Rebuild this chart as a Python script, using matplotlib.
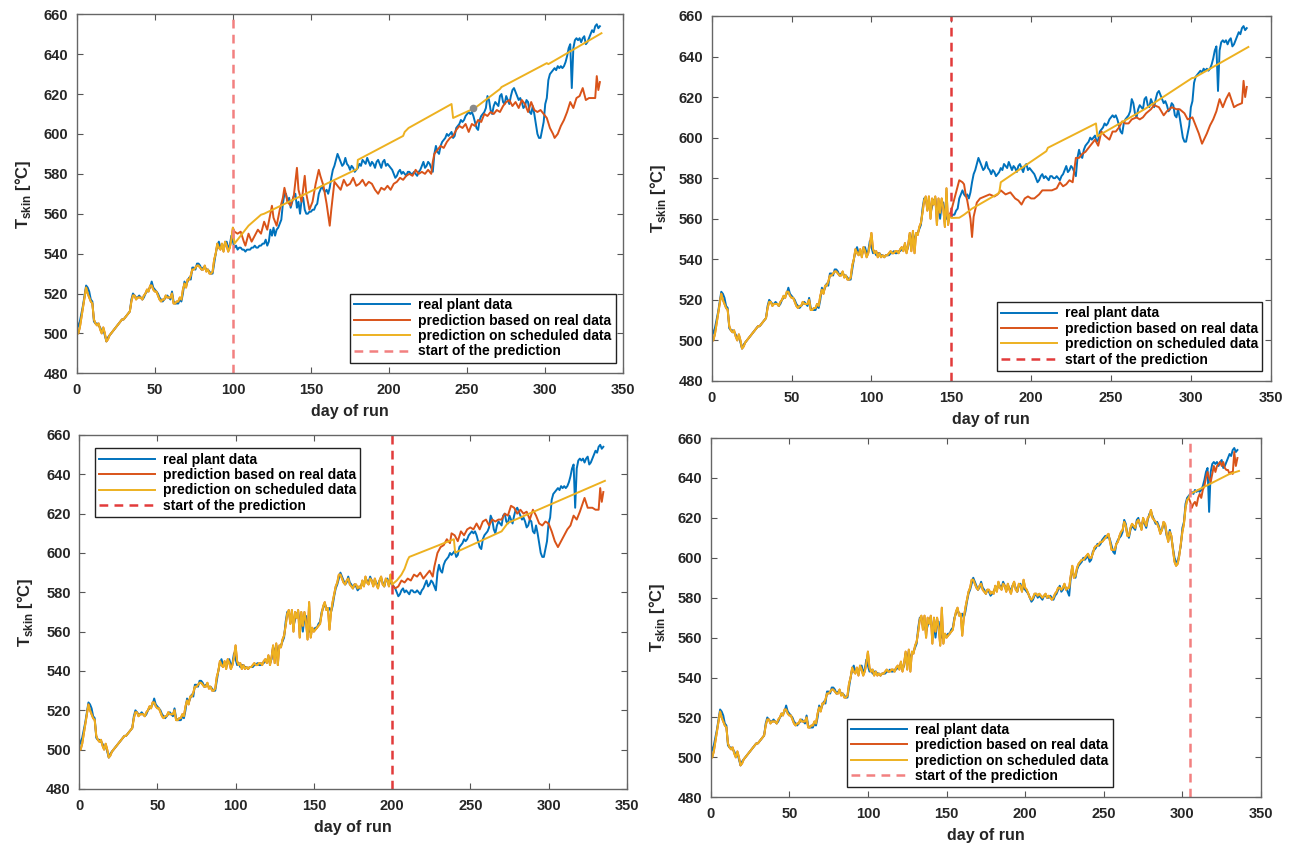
import numpy as np
import matplotlib
matplotlib.use('Agg')
import matplotlib.pyplot as plt

plt.rcParams['font.family'] = ['Liberation Sans', 'DejaVu Sans']
plt.rcParams['mathtext.fontset'] = 'custom'
plt.rcParams['mathtext.bf'] = 'Liberation Sans:bold'
plt.rcParams['mathtext.rm'] = 'Liberation Sans:bold'

# ---------------- data ----------------
# real plant data, one value per day (day 0 .. 335)
real_vals = [
    502, 504, 506, 510, 514, 519, 524, 523, 521, 517,
    516, 506, 505, 505, 504, 503, 501, 502, 499, 496,
    498, 499, 500, 501, 502, 503, 504, 505, 506, 507,
    507, 508, 509, 510, 511, 517, 520, 519, 518, 518,
    519, 518, 517, 518, 520, 521, 522, 523, 526, 523,
    522, 521, 520, 518, 517, 516, 517, 518, 519, 518,
    517, 521, 516, 515, 515, 515, 517, 516, 520, 526,
    524, 526, 528, 527, 533, 533, 532, 535, 535, 534,
    532, 533, 533, 532, 532, 531, 530, 530, 535, 540,
    544, 546, 543, 544, 542, 545, 546, 543, 544, 549,
    546, 543, 544, 542, 543, 543, 542, 542, 541, 542,
    542, 542, 543, 543, 544, 543, 543, 544, 544, 545,
    545, 547, 544, 546, 552, 549, 553, 549, 552, 553,
    555, 557, 565, 570, 570, 566, 568, 563, 566, 569,
    570, 563, 566, 560, 567, 568, 562, 560, 560, 561,
    561, 562, 562, 564, 565, 570, 572, 574, 572, 571,
    572, 570, 573, 578, 582, 584, 587, 590, 588, 586,
    584, 585, 588, 585, 584, 582, 584, 583, 581, 582,
    583, 585, 584, 587, 586, 585, 588, 586, 584, 586,
    585, 583, 586, 587, 585, 583, 586, 587, 584, 585,
    584, 583, 582, 580, 578, 579, 581, 582, 580, 581,
    580, 579, 581, 581, 580, 580, 581, 580, 579, 581,
    582, 584, 586, 583, 584, 586, 585, 583, 581, 590,
    594, 591, 590, 594, 596, 597, 598, 600, 599, 600,
    601, 598, 599, 603, 604, 605, 607, 606, 607, 609,
    610, 611, 610, 611, 609, 606, 603, 602, 607, 609,
    610, 611, 613, 619, 617, 612, 610, 614, 616, 615,
    614, 619, 620, 616, 615, 619, 617, 615, 619, 622,
    623, 621, 619, 617, 618, 616, 613, 614, 617, 616,
    611, 610, 614, 610, 605, 600, 598, 598, 602, 606,
    615, 618, 627, 630, 631, 632, 633, 632, 634, 633,
    634, 633, 634, 636, 639, 643, 645, 623, 643, 647,
    648, 647, 648, 646, 648, 649, 645, 646, 648, 650,
    652, 651, 654, 655, 653, 654,
]
real_days = list(range(len(real_vals)))

# model output on the historical period (day 0 .. 305)
fit_vals = [
    500, 500, 503, 508, 513, 518, 523, 520, 518, 516,
    515, 507, 505, 504, 505, 502, 500, 503, 500, 496,
    497, 499, 500, 501, 502, 503, 504, 505, 506, 507,
    507, 508, 509, 510, 511, 516, 519, 519, 517, 518,
    518, 518, 517, 519, 520, 522, 521, 524, 524, 522,
    521, 521, 519, 517, 516, 517, 517, 519, 518, 518,
    518, 520, 515, 515, 516, 516, 518, 517, 522, 525,
    523, 527, 527, 529, 532, 532, 533, 534, 534, 533,
    532, 532, 534, 531, 532, 530, 530, 531, 537, 540,
    545, 543, 542, 545, 541, 546, 544, 541, 543, 547,
    553, 545, 543, 544, 541, 543, 541, 542, 541, 542,
    542, 543, 544, 543, 543, 544, 544, 543, 545, 546,
    544, 548, 543, 547, 553, 544, 554, 543, 553, 552,
    556, 558, 563, 569, 571, 564, 571, 560, 570, 567,
    571, 557, 570, 563, 570, 565, 556, 575, 557, 562,
    560, 561, 562, 563, 564, 569, 573, 575, 571, 572,
    561, 570, 575, 579, 583, 585, 589, 589, 587, 585,
    584, 586, 587, 584, 583, 582, 584, 584, 582, 583,
    582, 586, 583, 588, 585, 584, 587, 586, 583, 587,
    584, 582, 586, 588, 584, 583, 587, 586, 583, 589,
    585, 584, 582, 580, 579, 580, 582, 582, 581, 582,
    581, 580, 581, 582, 580, 581, 580, 579, 580, 582,
    583, 585, 585, 584, 585, 587, 584, 585, 585, 591,
    596, 590, 591, 595, 597, 598, 599, 599, 600, 601,
    602, 600, 600, 602, 605, 606, 606, 607, 608, 608,
    609, 610, 611, 612, 608, 604, 604, 604, 607, 608,
    611, 613, 614, 618, 616, 611, 611, 615, 617, 616,
    615, 618, 619, 617, 614, 620, 618, 616, 620, 621,
    624, 620, 619, 618, 617, 615, 612, 614, 618, 617,
    612, 608, 613, 611, 604, 598, 596, 597, 601, 607,
    613, 617, 625, 629, 630, 633,
]
fit_days = list(range(len(fit_vals)))

start_days = [100, 150, 200, 305]

# panel 1: prediction from day 100
p1_real_days = [100, 101, 103, 105, 107, 108, 110, 112, 114, 116, 118, 120, 122, 124, 125, 126, 128,
                130, 132, 133, 135, 137, 139, 141, 142, 144, 146, 147, 149, 151, 153, 155, 156, 158,
                160, 162, 163, 165, 167, 169, 171, 173, 175, 177, 179, 181, 183, 185, 187, 189, 191,
                193, 195, 197, 199, 201, 203, 205, 207, 209, 211, 213, 215, 217, 219, 221, 223, 225,
                227, 228, 229, 231, 233, 235, 237, 239, 241, 243, 245, 247, 249, 251, 253, 255, 257,
                259, 261, 263, 265, 267, 269, 271, 273, 275, 277, 279, 281, 283, 285, 287, 289, 291,
                293, 295, 297, 299, 301, 303, 305, 306, 308, 310, 312, 314, 316, 318, 320, 322, 324,
                326, 328, 330, 332, 333, 334, 335]
p1_real_vals = [553, 551, 550, 551, 546, 544, 550, 546, 549, 552, 550, 556, 552, 560, 564, 558, 554,
                562, 568, 573, 566, 564, 569, 583, 572, 566, 579, 570, 562, 566, 575, 582, 579, 574,
                565, 554, 562, 576, 574, 572, 577, 574, 575, 578, 574, 575, 577, 574, 576, 575, 572,
                570, 573, 572, 574, 572, 575, 576, 578, 577, 579, 580, 579, 582, 580, 581, 580, 582,
                580, 586, 590, 592, 594, 593, 596, 598, 599, 602, 604, 603, 605, 601, 605, 604, 607,
                606, 610, 609, 611, 610, 612, 611, 614, 616, 617, 614, 616, 613, 617, 615, 611, 616,
                612, 611, 612, 610, 608, 603, 600, 598, 600, 604, 607, 611, 616, 613, 618, 619, 623,
                617, 618, 618, 618, 629, 622, 626]
p1_sched_days = [100, 101, 105, 110, 118, 120, 179.5, 180, 209, 210, 212.5, 240, 241, 255, 271, 272,
                 301, 302, 336]
p1_sched_vals = [553, 545, 549, 554, 559.5, 560, 582.4, 587, 599, 601, 603, 615, 608, 613, 622.5,
                 623.5, 635.5, 635, 650.5]

# panel 2: prediction from day 150
p2_real_days = [150, 152, 154, 155, 157, 158, 159, 160, 162, 163, 164, 166, 168, 171, 174, 177, 179,
                181, 184, 187, 190, 192, 194, 196, 198, 200, 202, 205, 207, 210, 213, 216, 218, 220,
                222, 224, 226, 228, 230, 232, 234, 236, 238, 240, 242, 244, 246, 249, 251, 253, 255,
                257, 259, 261, 263, 266, 268, 270, 272, 275, 277, 280, 283, 285, 288, 291, 293, 296,
                298, 301, 303, 305, 307, 310, 312, 314, 316, 318, 320, 322, 324, 327, 329, 332, 333,
                334, 335]
p2_real_vals = [564, 570, 576, 579, 578, 577, 572, 569, 560, 551, 561, 568, 570, 571, 572, 571, 572,
                574, 572, 573, 570, 569, 567, 570, 571, 570, 570, 572, 574, 574, 574, 575, 578, 576,
                577, 579, 578, 590, 590, 592, 593, 595, 597, 599, 596, 603, 601, 599, 603, 603, 605,
                608, 607, 607, 609, 610, 609, 610, 612, 614, 616, 615, 611, 613, 615, 614, 614, 612,
                609, 610, 606, 602, 597, 602, 606, 609, 613, 619, 615, 619, 622, 615, 616, 617, 628,
                620, 625]
p2_sched_days = [150, 155, 158, 163, 180, 181, 209.5, 210.5, 240.6, 241.5, 271, 300.8, 302, 336]
p2_sched_vals = [560.4, 560.5, 562, 565, 572.7, 578, 593.3, 595, 607, 600.7, 614, 629.4, 629.5, 644.7]

# panel 3: prediction from day 200
p3_real_days = [200, 202, 204, 206, 208, 210, 212, 214, 216, 218, 220, 222, 224, 226, 227, 229, 231,
                233, 235, 237, 238, 240, 242, 244, 246, 248, 250, 252, 254, 256, 258, 260, 262, 264,
                266, 268, 270, 272, 274, 276, 278, 280, 282, 284, 286, 288, 290, 292, 294, 296, 298,
                300, 302, 304, 306, 308, 310, 312, 314, 316, 318, 320, 323, 325, 328, 330, 332, 333,
                334, 335]
p3_real_vals = [584, 582, 583, 586, 585, 587, 586, 589, 588, 590, 587, 589, 591, 588, 593, 600, 603,
                604, 607, 605, 610, 609, 606, 611, 609, 612, 613, 612, 615, 612, 616, 617, 614, 617,
                616, 617, 617, 620, 619, 624, 623, 620, 622, 620, 621, 617, 622, 619, 615, 614, 616,
                615, 611, 606, 603, 606, 609, 612, 614, 619, 617, 621, 628, 623, 623, 622, 622, 633,
                626, 631]
p3_sched_days = [200, 203, 206, 208, 210, 211, 239.5, 240.3, 270, 274, 336]
p3_sched_vals = [584, 586, 589, 592, 596.5, 598, 607, 600.2, 611, 615.3, 636.7]

# panel 4: prediction from day 305
p4_real_days = [305, 306, 307, 308, 309, 310, 311, 312, 313, 314, 315, 316, 317, 318, 319, 320, 321,
                322, 323, 324, 325, 326, 327, 328, 329, 330, 331, 332, 333, 334, 335]
p4_real_vals = [628, 625, 627, 628, 626, 630, 632, 630, 634, 636, 640, 643, 640, 638, 642, 646, 643,
                646, 647, 648, 646, 648, 645, 644, 644, 642, 643, 642, 653, 646, 650]
p4_sched_days = [305, 310, 320, 330, 336]
p4_sched_vals = [632, 634, 638, 642, 643.5]

legend_labels = ['real plant data', 'prediction based on real data',
                 'prediction on scheduled data', 'start of the prediction']

# ---------------- drawing ----------------
C_BLUE = '#0072BD'
C_RED = '#D95319'
C_YEL = '#EDB120'

fig = plt.figure(figsize=(12.94, 8.44), dpi=100)

positions = [
    [0.0593, 0.5577, 0.4224, 0.4254],
    [0.5500, 0.5486, 0.4320, 0.4325],
    [0.0611, 0.0652, 0.4233, 0.4194],
    [0.5492, 0.0553, 0.4253, 0.4257],
]
vline_colors = ['#F28080', '#E23B3B', '#E23B3B', '#F28080']
legend_specs = [
    dict(loc='lower right', bbox_to_anchor=(0.986, 0.030)),
    dict(loc='lower right', bbox_to_anchor=(0.985, 0.028)),
    dict(loc='upper left', bbox_to_anchor=(0.029, 0.962)),
    dict(loc='lower left', bbox_to_anchor=(0.248, 0.028)),
]
panels = [
    (p1_real_days, p1_real_vals, p1_sched_days, p1_sched_vals),
    (p2_real_days, p2_real_vals, p2_sched_days, p2_sched_vals),
    (p3_real_days, p3_real_vals, p3_sched_days, p3_sched_vals),
    (p4_real_days, p4_real_vals, p4_sched_days, p4_sched_vals),
]

for i in range(4):
    ax = fig.add_axes(positions[i])
    s = start_days[i]
    rd, rv, sd, sv = panels[i]
    hist_d = [d for d in fit_days if d < s]
    hist_v = [v for d, v in zip(fit_days, fit_vals) if d < s]

    l1, = ax.plot(real_days, real_vals, color=C_BLUE, lw=1.4)
    l2, = ax.plot(hist_d + list(rd), hist_v + list(rv), color=C_RED, lw=1.4)
    l3, = ax.plot(hist_d + list(sd), hist_v + list(sv), color=C_YEL, lw=1.4)
    l4 = ax.axvline(s, color=vline_colors[i], lw=1.8, ls=(0, (3.5, 2.5)))
    if i == 0:
        ax.plot([254], [613], 'o', color='#8a8a8a', ms=4.5, zorder=5)

    ax.set_xlim(0, 350)
    ax.set_ylim(480, 660)
    ax.set_xticks(np.arange(0, 351, 50))
    ax.set_yticks(np.arange(480, 661, 20))
    ax.tick_params(direction='in', top=True, right=True, length=4.5, width=0.8,
                   color='#555555', labelsize=10.5, labelcolor='#262626')
    ax.tick_params(axis='x', pad=7)
    ax.tick_params(axis='y', pad=6)
    for lab in ax.get_xticklabels() + ax.get_yticklabels():
        lab.set_fontweight('bold')
    for sp in ax.spines.values():
        sp.set_color('#666666')
        sp.set_linewidth(1.0)

    ax.set_xlabel('day of run', fontsize=11.5, fontweight='bold', color='#262626', labelpad=5)
    ax.set_ylabel(r'T$_{\mathbf{skin}}$ [°C]', fontsize=12, fontweight='bold', color='#262626',
                  labelpad=8)

    leg = ax.legend([l1, l2, l3, l4], legend_labels,
                    prop={'size': 10, 'weight': 'bold'}, frameon=True, fancybox=False,
                    framealpha=1, edgecolor='#222222', borderpad=0.3, labelspacing=0.1,
                    handlelength=4.0, handletextpad=0.6, borderaxespad=0, **legend_specs[i])
    leg.get_frame().set_linewidth(1.0)

fig.savefig('out.png', dpi=100)
